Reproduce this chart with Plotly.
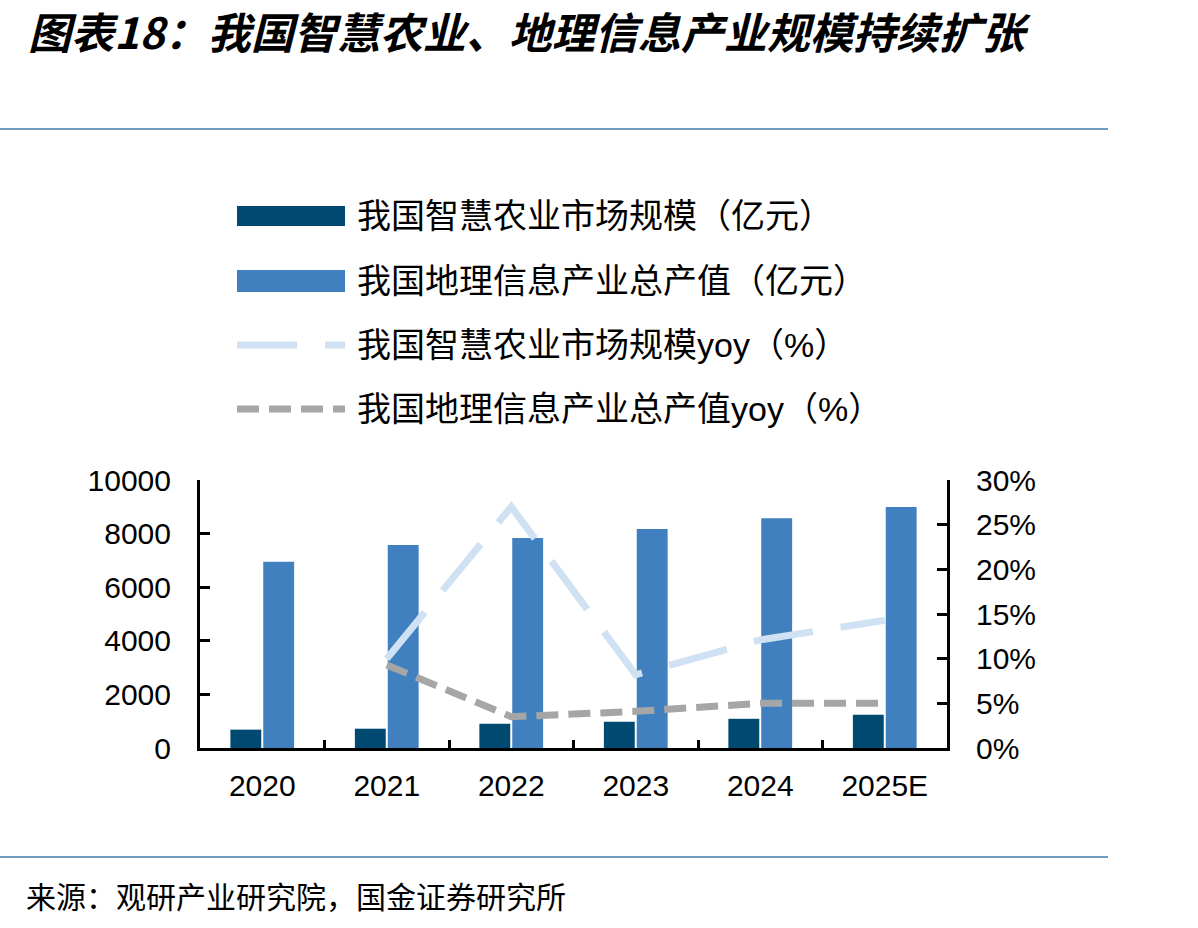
import plotly.graph_objects as go

# ---------------- data ----------------
categories = ["2020", "2021", "2022", "2023", "2024", "2025E"]
smart_ag = [685, 720, 905, 980, 1090, 1240]            # 我国智慧农业市场规模（亿元）
geo_info = [6950, 7570, 7840, 8170, 8570, 8990]        # 我国地理信息产业总产值（亿元）
smart_ag_yoy = [None, 0.100, 0.270, 0.082, 0.121, 0.143]
geo_yoy = [None, 0.093, 0.035, 0.041, 0.050, 0.050]

series_names = [
    "我国智慧农业市场规模（亿元）",
    "我国地理信息产业总产值（亿元）",
    "我国智慧农业市场规模yoy（%）",
    "我国地理信息产业总产值yoy（%）",
]
title_text = "图表18：我国智慧农业、地理信息产业规模持续扩张"
source_text = "来源：观研产业研究院，国金证券研究所"

# ---------------- styling ----------------
W, H = 1198, 928
C_DARK = "#004A72"
C_BLUE = "#4180BE"
C_LIGHT = "#CFE1F2"
C_GRAY = "#A6A6A6"
C_RULE = "#3F7BA6"
DASH_LIGHT = "60px,28px"
DASH_GRAY = "22px,10px"
LW = 7
TICK_FONT = dict(family="Liberation Sans, Arial, sans-serif", size=30, color="black")
CJK_FONT = "Liberation Sans, Noto Sans CJK SC, sans-serif"


def px(x):
    return x / W


def py(y):
    return 1 - y / H


fig = go.Figure()
fig.add_trace(go.Bar(x=categories, y=smart_ag, name=series_names[0],
                     marker=dict(color=C_DARK, line=dict(width=0)), showlegend=False))
fig.add_trace(go.Bar(x=categories, y=geo_info, name=series_names[1],
                     marker=dict(color=C_BLUE, line=dict(width=0)), showlegend=False))
fig.add_trace(go.Scatter(x=categories, y=smart_ag_yoy, name=series_names[2], yaxis="y2",
                         mode="lines", line=dict(color=C_LIGHT, width=LW, dash=DASH_LIGHT),
                         showlegend=False))
fig.add_trace(go.Scatter(x=categories, y=geo_yoy, name=series_names[3], yaxis="y2",
                         mode="lines", line=dict(color=C_GRAY, width=LW, dash=DASH_GRAY),
                         showlegend=False))

shapes = []
annotations = []

# horizontal rules
for yy in (129, 857):
    shapes.append(dict(type="line", xref="paper", yref="paper",
                       x0=0, x1=px(1108), y0=py(yy), y1=py(yy),
                       line=dict(color=C_RULE, width=1.5)))

# manual legend
rows = [216, 281, 345, 409]
sx0, sx1 = 237, 345
shapes.append(dict(type="rect", xref="paper", yref="paper", x0=px(sx0), x1=px(sx1),
                   y0=py(rows[0] + 10), y1=py(rows[0] - 10),
                   fillcolor=C_DARK, line=dict(width=0)))
shapes.append(dict(type="rect", xref="paper", yref="paper", x0=px(sx0), x1=px(sx1),
                   y0=py(rows[1] + 11), y1=py(rows[1] - 11),
                   fillcolor=C_BLUE, line=dict(width=0)))
shapes.append(dict(type="line", xref="paper", yref="paper", x0=px(sx0), x1=px(sx1),
                   y0=py(rows[2]), y1=py(rows[2]),
                   line=dict(color=C_LIGHT, width=LW, dash=DASH_LIGHT)))
shapes.append(dict(type="line", xref="paper", yref="paper", x0=px(sx0), x1=px(sx1),
                   y0=py(rows[3]), y1=py(rows[3]),
                   line=dict(color=C_GRAY, width=LW, dash=DASH_GRAY)))
for name, r in zip(series_names, rows):
    annotations.append(dict(text=name, xref="paper", yref="paper", x=px(355), y=py(r),
                            xanchor="left", yanchor="middle", showarrow=False,
                            font=dict(family=CJK_FONT, size=34, color="black")))

# title & source
annotations.append(dict(text=title_text, xref="paper", yref="paper", x=px(26), y=py(30),
                        xanchor="left", yanchor="middle", showarrow=False,
                        font=dict(family="Noto Sans CJK SC, sans-serif", size=43,
                                  color="black", weight="bold", style="italic")))
annotations.append(dict(text=source_text, xref="paper", yref="paper", x=px(24), y=py(895),
                        xanchor="left", yanchor="middle", showarrow=False,
                        font=dict(family="Noto Sans CJK SC, sans-serif", size=30, color="black")))

fig.update_layout(
    width=W, height=H,
    margin=dict(l=0, r=0, t=0, b=0),
    paper_bgcolor="white", plot_bgcolor="white",
    barmode="group", bargap=0.472, bargroupgap=0.06,
    showlegend=False,
    shapes=shapes, annotations=annotations,
    xaxis=dict(domain=[px(200), px(947)], type="category",
               showline=True, linecolor="black", linewidth=3,
               ticks="inside", ticklen=8, tickwidth=3, tickcolor="black",
               tickson="boundaries", tickfont=TICK_FONT, ticklabelstandoff=9,
               showgrid=False, zeroline=False, automargin=False),
    yaxis=dict(domain=[py(748), py(480)], range=[0, 10000], dtick=2000, tickformat="d",
               showline=True, linecolor="black", linewidth=3,
               ticks="inside", ticklen=10, tickwidth=3, tickcolor="black",
               tickfont=TICK_FONT, ticklabelstandoff=20,
               showgrid=False, zeroline=False, automargin=False),
    yaxis2=dict(overlaying="y", side="right", anchor="x", range=[0, 0.3], dtick=0.05,
                tickformat=".0%",
                showline=True, linecolor="black", linewidth=3,
                ticks="inside", ticklen=10, tickwidth=3, tickcolor="black",
                tickfont=TICK_FONT, ticklabelstandoff=20,
                showgrid=False, zeroline=False, automargin=False),
)

fig.write_html("out.html")
